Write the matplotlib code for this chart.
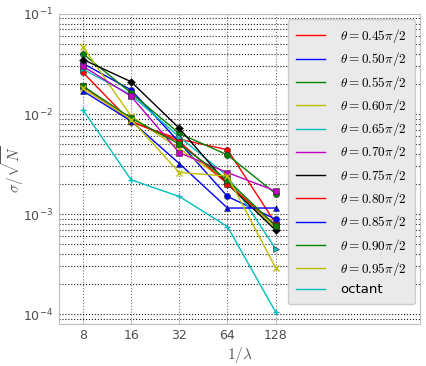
import numpy as np
import matplotlib.pyplot as plt
from matplotlib.ticker import LogLocator, NullLocator, NullFormatter

plt.rcParams['mathtext.fontset'] = 'cm'

# inverse wavelength values
inv_lam = [8, 16, 32, 64, 128]

labels = [r'$\theta = 0.45\pi/2$', r'$\theta = 0.50\pi/2$', r'$\theta = 0.55\pi/2$',
          r'$\theta = 0.60\pi/2$', r'$\theta = 0.65\pi/2$', r'$\theta = 0.70\pi/2$',
          r'$\theta = 0.75\pi/2$', r'$\theta = 0.80\pi/2$', r'$\theta = 0.85\pi/2$',
          r'$\theta = 0.90\pi/2$', r'$\theta = 0.95\pi/2$', 'octant']
colors = ['r', 'b', 'g', 'y', 'c', 'm', 'k', 'r', 'b', 'g', 'y', 'c']
markers = ['o', 'o', 'o', 'x', '>', 's', 'D', 's', '^', 's', 'x', '+']

# sigma / sqrt(N) per series
err_045 = [0.026, 0.0083, 0.0056, 0.0044, 0.00081]
err_050 = [0.032, 0.0174, 0.0052, 0.0015, 0.00089]
err_055 = [0.040, 0.0162, 0.0064, 0.0039, 0.0016]
err_060 = [0.047, 0.0095, 0.0045, 0.0021, 0.00072]
err_065 = [0.028, 0.0155, 0.0059, 0.0024, 0.00045]
err_070 = [0.030, 0.0150, 0.0041, 0.0026, 0.0017]
err_075 = [0.035, 0.0210, 0.0072, 0.0020, 0.00069]
err_080 = [0.019, 0.0085, 0.0053, 0.0020, 0.00078]
err_085 = [0.017, 0.0085, 0.0032, 0.00115, 0.00115]
err_090 = [0.019, 0.0091, 0.0050, 0.0022, 0.00076]
err_095 = [0.018, 0.0088, 0.0026, 0.0024, 0.00029]
err_oct = [0.011, 0.0022, 0.0015, 0.00075, 0.000105]

series = [err_045, err_050, err_055, err_060, err_065, err_070,
          err_075, err_080, err_085, err_090, err_095, err_oct]

fig = plt.figure(figsize=(4.27, 3.66), dpi=100)
ax = fig.add_axes([0.138, 0.115, 0.846, 0.847])

for vals, c, m in zip(series, colors, markers):
    ax.plot(inv_lam, vals, color=c, lw=1.0, marker=m, ms=4.5,
            mec=c if m in ('x', '+') else '0.2', mew=0.4 if m not in ('x', '+') else 1.0)
# legend handles (lines only)
for lab, c in zip(labels, colors):
    ax.plot([], [], color=c, lw=1.0, label=lab)

ax.set_xscale('log', base=2)
ax.set_yscale('log')
ax.set_xlim(5.66, 1024)
ax.set_ylim(8e-5, 1e-1)
ax.set_xticks(inv_lam)
ax.set_xticklabels([str(v) for v in inv_lam])
ax.xaxis.set_minor_locator(NullLocator())
ax.yaxis.set_minor_locator(LogLocator(base=10, subs=np.arange(2, 10)))
ax.yaxis.set_minor_formatter(NullFormatter())

ax.grid(which='major', axis='x', color='0.45', ls=':', lw=0.8)
ax.grid(which='both', axis='y', color='0.1', ls=':', lw=0.8)
ax.tick_params(which='both', length=0, labelsize=9, labelcolor='0.3', pad=4)
for s in ax.spines.values():
    s.set_color('0.75')

ax.set_xlabel(r'$1/\lambda$', fontsize=11, color='0.35', labelpad=2)
ax.set_ylabel(r'$\sigma/\sqrt{N}$', fontsize=11, color='0.35')
ax.yaxis.set_label_coords(-0.09, 0.5)

handles, labs = ax.get_legend_handles_labels()
leg = ax.legend(handles[-12:], labs[-12:], loc='upper right', fontsize=9.5,
                frameon=True, fancybox=True, facecolor='#eaeaea', edgecolor='0.8',
                framealpha=1.0, handlelength=2.2, labelspacing=0.4, borderpad=0.6,
                borderaxespad=0.4, handletextpad=1.2)

plt.savefig('out.png')
